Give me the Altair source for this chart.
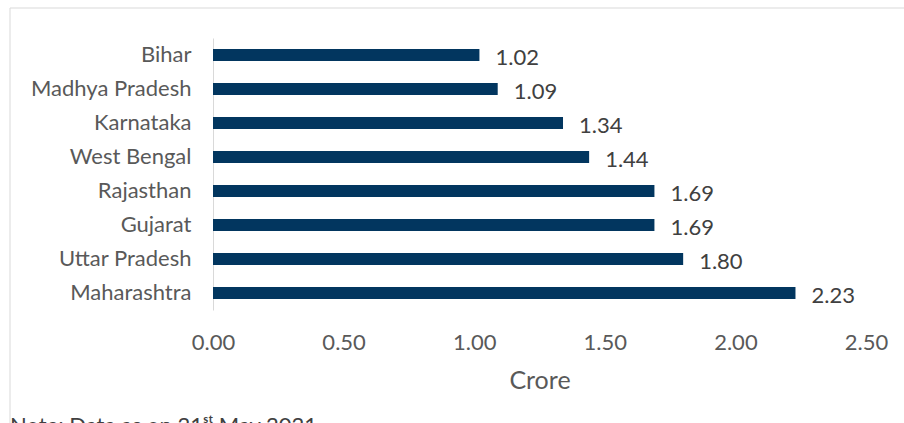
import altair as alt
import pandas as pd

states = ["Bihar", "Madhya Pradesh", "Karnataka", "West Bengal",
          "Rajasthan", "Gujarat", "Uttar Pradesh", "Maharashtra"]
values = [1.02, 1.09, 1.34, 1.44, 1.69, 1.69, 1.80, 2.23]
x_ticks = [0.0, 0.5, 1.0, 1.5, 2.0, 2.5]
x_title = "Crore"
note_text = "Note: Data as on 21ˢᵗ May 2021"

df = pd.DataFrame({"state": states, "value": values})
df["label"] = [f"{v:.2f}" for v in values]

FONT = "Lato"
FS = 22

y_enc = alt.Y("state:N", sort=states, title=None,
              scale=alt.Scale(paddingInner=0.64, paddingOuter=0.32),
              axis=alt.Axis(domain=True, domainColor="#d9d9d9", domainWidth=1,
                            ticks=False, labelPadding=22, labelFontSize=FS,
                            labelColor="#595959", labelFont=FONT, grid=False))
x_enc = alt.X("value:Q", title=x_title,
              scale=alt.Scale(domain=[0, 2.5], nice=False, zero=True),
              axis=alt.Axis(values=x_ticks, format=".2f", domain=False, ticks=False,
                            grid=False, labelPadding=22, labelFontSize=FS,
                            labelFlush=False, labelOverlap=False,
                            labelColor="#595959", labelFont=FONT,
                            titleFontSize=25, titleFont=FONT, titleColor="#595959",
                            titleFontWeight="normal", titlePadding=15))

bars = alt.Chart(df).mark_bar(color="#02365F").encode(x=x_enc, y=y_enc)

labels = alt.Chart(df).mark_text(align="left", baseline="middle", dx=16, dy=3,
                                 fontSize=FS, font=FONT, color="#404040").encode(
    x="value:Q", y=alt.Y("state:N", sort=states), text="label:N")

frame = alt.Chart(pd.DataFrame({"a": [0]})).mark_rect(
    fill=None, stroke="#d9d9d9", strokeWidth=1).encode(
    x=alt.value(-203), x2=alt.value(720), y=alt.value(-30), y2=alt.value(420))

note = alt.Chart(pd.DataFrame({"t": [note_text]})).mark_text(
    align="left", baseline="top", fontSize=FS, font=FONT, color="#404040").encode(
    x=alt.value(-203), y=alt.value(378), text="t:N")

chart = alt.layer(frame, bars, labels, note).properties(
    width=653, height=272,
    padding={"left": 213, "top": 38, "right": 38, "bottom": 113},
    autosize=alt.AutoSizeParams(type="none"),
    background="white",
).configure_view(stroke=None)

chart.save("out.html", embed_options={"renderer": "svg", "actions": False})
